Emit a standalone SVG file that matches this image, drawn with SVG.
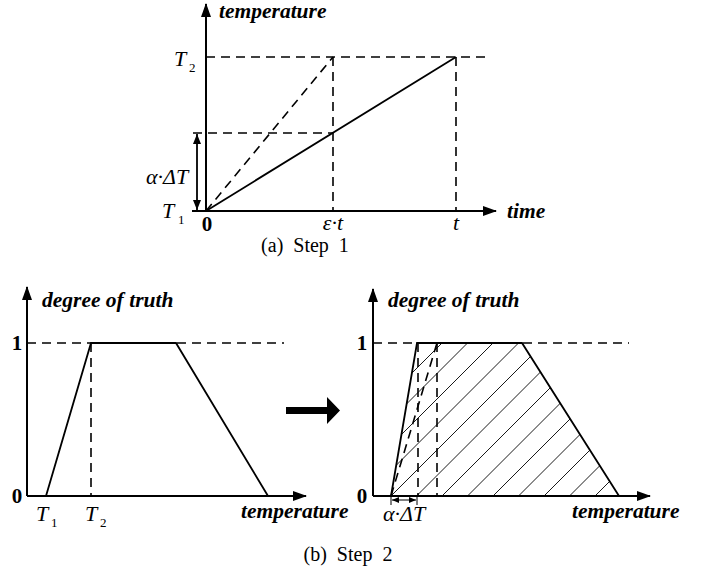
<svg xmlns="http://www.w3.org/2000/svg" width="702" height="574" viewBox="0 0 702 574">
<style>
.ax{stroke:#000;stroke-width:2;fill:none}
.ln{stroke:#000;stroke-width:1.8;fill:none}
.ds{stroke:#000;stroke-width:1.6;fill:none;stroke-dasharray:9,6}
.ht{stroke:#000;stroke-width:0.9;fill:none}
.bi{font-family:"Liberation Serif",serif;font-weight:bold;font-style:italic;font-size:21.5px}
.b{font-family:"Liberation Serif",serif;font-weight:bold;font-size:21px}
.i{font-family:"Liberation Serif",serif;font-style:italic;font-size:22px}
.sub{font-family:"Liberation Serif",serif;font-size:13px}
.cap{font-family:"Liberation Serif",serif;font-size:20px}
</style>
<defs>
<marker id="ah" markerWidth="14" markerHeight="10" refX="13" refY="5" orient="auto" markerUnits="userSpaceOnUse"><path d="M0,0 L14,5 L0,10 Z" fill="#000"/></marker>
<marker id="sa" markerWidth="10" markerHeight="8" refX="10" refY="4" orient="auto-start-reverse" markerUnits="userSpaceOnUse"><path d="M0,0 L10,4 L0,8 Z" fill="#000"/></marker>
<marker id="ta" markerWidth="7" markerHeight="6" refX="7" refY="3" orient="auto-start-reverse" markerUnits="userSpaceOnUse"><path d="M0,0 L7,3 L0,6 Z" fill="#000"/></marker>
<clipPath id="trap"><polygon points="391,496 417,343 522,343 619,496"/></clipPath>
</defs>

<g id="chart-a">
<line class="ax" x1="206" y1="211" x2="206" y2="4" marker-end="url(#ah)"/>
<line class="ax" x1="192" y1="211" x2="496" y2="211" marker-end="url(#ah)"/>
<line class="ds" x1="206" y1="57" x2="488" y2="57"/>
<line class="ds" x1="193" y1="133" x2="333" y2="133"/>
<line class="ds" x1="333" y1="57" x2="333" y2="211"/>
<line class="ds" x1="456" y1="57" x2="456" y2="211"/>
<line class="ds" x1="206" y1="211" x2="333" y2="57"/>
<line class="ln" x1="206" y1="211" x2="456" y2="57"/>
<line class="ln" x1="197" y1="134" x2="197" y2="210" marker-start="url(#sa)" marker-end="url(#sa)"/>
<text class="bi" x="219" y="18">temperature</text>
<text class="bi" x="507" y="218">time</text>
<text class="i" x="174" y="66">T</text><text class="sub" x="189" y="72">2</text>
<text class="i" x="146" y="184">α·ΔT</text>
<text class="i" x="162" y="218">T</text><text class="sub" x="178" y="224">1</text>
<text class="b" x="207" y="231" text-anchor="middle">0</text>
<text class="i" x="333" y="230" text-anchor="middle">ε·t</text>
<text class="i" x="456" y="230" text-anchor="middle">t</text>
<text class="cap" x="305" y="252" text-anchor="middle" xml:space="preserve">(a)  Step  1</text>
</g>

<g id="chart-b-left">
<line class="ax" x1="27" y1="496" x2="27" y2="287" marker-end="url(#ah)"/>
<line class="ax" x1="27" y1="496" x2="306" y2="496" marker-end="url(#ah)"/>
<line class="ds" x1="27" y1="343" x2="284" y2="343"/>
<line class="ds" x1="91" y1="343" x2="91" y2="496"/>
<polyline class="ln" points="46,496 91,343 176,343 268,496"/>
<text class="bi" x="42" y="307">degree of truth</text>
<text class="b" x="17" y="350" text-anchor="middle">1</text>
<text class="b" x="17" y="503" text-anchor="middle">0</text>
<text class="i" x="36" y="521">T</text><text class="sub" x="51" y="527">1</text>
<text class="i" x="85" y="521">T</text><text class="sub" x="100" y="527">2</text>
<text class="bi" x="241" y="518">temperature</text>
</g>

<g id="block-arrow">
<polygon points="286,407 327,407 327,397 340,410.5 327,424 327,414 286,414" fill="#000"/>
</g>

<g id="chart-b-right">
<g clip-path="url(#trap)">
<path class="ht" d="M391,496 l160,-160 M416.5,496 l160,-160 M442,496 l160,-160 M467.5,496 l160,-160 M493,496 l160,-160 M518.5,496 l160,-160 M544,496 l160,-160 M569.5,496 l160,-160 M595,496 l160,-160 M365.5,496 l160,-160 M340,496 l160,-160 M314.5,496 l160,-160 M289,496 l160,-160 M263.5,496 l160,-160 M238,496 l160,-160"/>
</g>
<line class="ax" x1="373" y1="496" x2="373" y2="289" marker-end="url(#ah)"/>
<line class="ax" x1="373" y1="496" x2="650" y2="496" marker-end="url(#ah)"/>
<line class="ds" x1="373" y1="343" x2="629" y2="343"/>
<line class="ds" x1="418" y1="343" x2="418" y2="496"/>
<line class="ds" x1="437" y1="343" x2="437" y2="496"/>
<line class="ds" x1="391" y1="496" x2="437" y2="343"/>
<polyline class="ln" points="391,496 417,343 522,343 619,496"/>
<line class="ln" x1="391" y1="496" x2="391" y2="505" style="stroke-width:1"/>
<line class="ln" x1="417" y1="496" x2="417" y2="505" style="stroke-width:1"/>
<line class="ln" x1="392" y1="500" x2="416" y2="500" style="stroke-width:1" marker-start="url(#ta)" marker-end="url(#ta)"/>
<text class="bi" x="388" y="307">degree of truth</text>
<text class="b" x="362" y="350" text-anchor="middle">1</text>
<text class="b" x="362" y="503" text-anchor="middle">0</text>
<text class="i" x="383" y="521">α·ΔT</text>
<text class="bi" x="572" y="518">temperature</text>
</g>

<text class="cap" x="348" y="561" text-anchor="middle" xml:space="preserve">(b)  Step  2</text>
</svg>
